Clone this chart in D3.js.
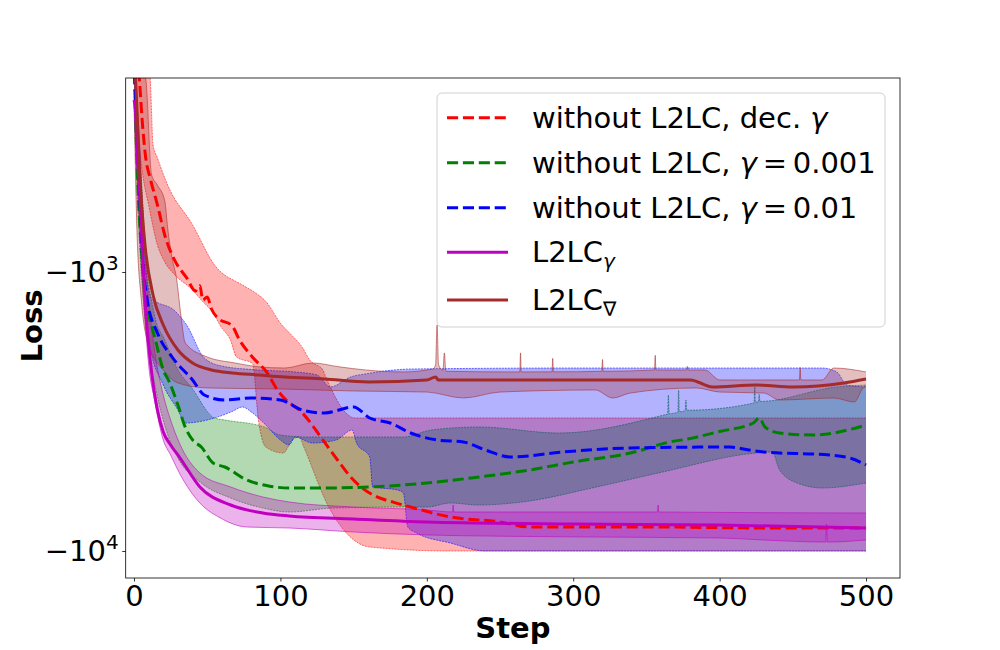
<!DOCTYPE html>
<html>
<head>
<meta charset="utf-8">
<script src="https://cdn.jsdelivr.net/npm/d3@7"></script>
<style>
body { margin: 0; background: #fff; }
svg { font-family: "DejaVu Sans", sans-serif; }
</style>
</head>
<body>
<script>
// [step, loss] pairs; "upper" = less negative edge of the band
var redMean = [[0,-167],[3,-189],[6,-305],[8,-390],[11,-460],[16,-575],[21,-737],[28,-913],[36,-1050],[42,-1170],[45,-1120],[47,-1260],[50,-1230],[53,-1360],[57,-1460],[67,-1560],[72,-1750],[81,-2020],[91,-2300],[98,-2650],[102,-2810],[115,-3200],[129,-4000],[139,-4720],[148,-5430],[156,-5950],[166,-6400],[177,-6680],[189,-6960],[216,-7550],[250,-7870],[270,-8200],[350,-8200],[430,-8270],[500,-8270]];
var redUpper = [[0,-100],[8,-170],[11,-202],[13,-350],[16,-390],[23,-488],[40,-678],[55,-944],[74,-1113],[81,-1170],[90,-1275],[101,-1549],[106,-1650],[115,-1865],[120,-2068],[129,-2245],[131,-2378],[151,-3337],[500,-3337]];
var redLower = [[0,-200],[3,-330],[6,-450],[10,-575],[16,-800],[21,-920],[28,-1025],[40,-1160],[46,-1260],[55,-1426],[59,-1560],[66,-1760],[70,-2017],[81,-2130],[85,-3393],[90,-4240],[102,-4455],[108,-4002],[113,-3904],[116,-4240],[133,-6956],[145,-8616],[161,-9676],[216,-10000],[500,-10000]];

var greenMean = [[0,-170],[2,-397],[5,-834],[8,-1260],[10,-1426],[14,-1700],[20,-2245],[24,-2470],[30,-3000],[35,-3600],[40,-4000],[46,-4240],[54,-4838],[62,-5000],[77,-5567],[92,-5850],[106,-5945],[130,-5945],[160,-5896],[200,-5705],[230,-5475],[270,-5126],[300,-4798],[339,-4455],[366,-4068],[380,-3950],[400,-3730],[423,-3478],[427,-3337],[431,-3594],[441,-3777],[464,-3840],[498,-3560],[500,-3535]];
var greenUpper = [[0,-150],[4,-365],[8,-834],[14,-1426],[21,-1753],[30,-2245],[39,-2583],[55,-3337],[62,-3393],[89,-3594],[100,-3840],[120,-3904],[184,-3904],[203,-3685],[236,-3594],[290,-3777],[362,-3255],[364.5,-3230],[365,-2760],[365.5,-3220],[371.5,-3180],[372,-2648],[372.5,-3170],[376.5,-3140],[377,-2876],[377.5,-3130],[423.5,-2948],[424,-2583],[424.5,-2930],[426.5,-2920],[427,-2740],[427.5,-2910],[480,-2583],[500,-2541]];
var greenLower = [[0,-250],[3,-651],[8,-1574],[15,-2648],[22,-3685],[30,-4642],[45,-5657],[66,-6457],[88,-7014],[106,-7248],[136,-7014],[184,-6956],[200,-6956],[216,-6730],[235,-6842],[265,-6675],[316,-5896],[361,-5211],[425,-4455],[436,-4418],[441,-5126],[453,-5705],[470,-5945],[500,-5705]];

var blueMean = [[0,-170],[2,-310],[4,-552],[6,-906],[9,-1260],[16,-1654],[26,-2017],[40,-2438],[48,-2760],[62,-2876],[80,-2829],[100,-2876],[115,-3124],[130,-3202],[150,-3047],[161,-3337],[175,-3478],[189,-3777],[207,-4002],[225,-4068],[240,-4346],[257,-4604],[293,-4418],[339,-4274],[407,-4240],[420,-4346],[430,-4418],[475,-4529],[490,-4660],[500,-4918]];
var blueUpper = [[0,-150],[3,-336],[6,-707],[12,-1240],[28,-1380],[36,-1549],[48,-2034],[60,-2174],[85,-2245],[110,-2282],[125,-2339],[134,-2583],[148,-2378],[160,-2310],[190,-2227],[300,-2209],[470,-2209],[480,-2282],[487,-2541],[500,-2583]];
var blueLower = [[0,-223],[3,-552],[5,-834],[10,-1753],[20,-2541],[30,-3124],[35,-3478],[55,-3337],[67,-3163],[74,-3047],[81,-3202],[90,-3535],[100,-4002],[106,-4170],[110,-3904],[122,-4102],[138,-4002],[149,-3685],[152,-4102],[161,-4604],[163,-5896],[180,-6044],[184,-6196],[187,-8204],[193,-8616],[216,-9361],[240,-10000],[500,-10000]];

var magentaMean = [[0,-242],[1,-263],[2,-365],[4,-530],[6,-906],[8,-1368],[10,-1827],[12,-2282],[16,-3124],[20,-3746],[25,-4170],[31,-4604],[45,-5896],[66,-6842],[88,-7308],[106,-7491],[150,-7679],[200,-7871],[300,-8002],[400,-8068],[500,-8272]];
var magentaUpper = [[0,-170],[2,-242],[4,-365],[6,-600],[8,-906],[10,-1260],[14,-1904],[20,-2760],[25,-3393],[31,-4102],[45,-5254],[66,-5896],[88,-6404],[106,-6675],[150,-6956],[200,-7129],[217.5,-7248],[218,-6842],[218.5,-7248],[357.5,-7248],[358,-6842],[358.5,-7248],[500,-7308]];
var magentaLower = [[0,-242],[2,-397],[4,-707],[6,-1160],[8,-1614],[10,-2154],[14,-2876],[20,-4002],[25,-4529],[31,-5254],[45,-6730],[59,-7615],[77,-8204],[106,-8272],[150,-8550],[200,-8760],[300,-8900],[400,-8981],[430,-9131],[472.5,-9290],[473,-8000],[473.5,-9290],[500,-9131]];

var brownMean = [[0,-170],[1,-202],[4,-460],[7.5,-800],[13,-1209],[20,-1549],[30,-1904],[40,-2119],[53,-2245],[67,-2301],[85,-2339],[103,-2378],[130,-2418],[160,-2479],[200,-2438],[206,-2380],[208,-2440],[300,-2438],[380,-2438],[395,-2583],[425,-2541],[450,-2583],[485,-2499],[500,-2418]];
var brownUpper = [[0,-150],[8,-202],[12,-449],[16,-488],[21,-556],[23,-695],[26,-891],[29,-1051],[32,-1426],[35,-1797],[50,-2017],[69,-2119],[85,-2187],[103,-2209],[122,-2119],[140,-2187],[158,-2245],[184,-2282],[204,-2227],[206,-2150],[207,-1549],[208,-2150],[211,-2250],[212,-1950],[213,-2270],[263.5,-2282],[264,-1950],[264.5,-2282],[285.5,-2280],[286,-2040],[286.5,-2280],[319.5,-2270],[320,-2060],[320.5,-2270],[355.5,-2245],[356,-1990],[356.5,-2245],[377.5,-2245],[378,-2180],[378.5,-2245],[390,-2245],[400,-2438],[454.5,-2438],[455,-2200],[455.5,-2438],[470,-2438],[478,-2209],[500,-2282]];
var brownLower = [[0,-242],[2,-707],[5,-1260],[10,-1827],[20,-2245],[30,-2499],[50,-2604],[100,-2626],[150,-2670],[200,-2693],[225,-2829],[250,-2693],[315,-2648],[327,-2829],[339,-2715],[384,-2604],[400,-2693],[430,-2715],[441,-2876],[478,-2829],[492,-2924],[498,-2604],[500,-2560]];

var xTicks = [0, 100, 200, 300, 400, 500];
var yTicks = [-1000, -10000];

var series = [
    {mean: redMean, upper: redUpper, lower: redLower, color: "#ff0000", dashed: true},
    {mean: greenMean, upper: greenUpper, lower: greenLower, color: "#008000", dashed: true},
    {mean: blueMean, upper: blueUpper, lower: blueLower, color: "#0000ff", dashed: true},
    {mean: magentaMean, upper: magentaUpper, lower: magentaLower, color: "#bf00bf", dashed: false},
    {mean: brownMean, upper: brownUpper, lower: brownLower, color: "#a52a2a", dashed: false}
];

var W = 1000, H = 650;
var box = {left: 125.7, right: 900, top: 78, bottom: 578};

var svg = d3.select("body").append("svg")
    .attr("width", W)
    .attr("height", H);

var x = d3.scaleLinear().domain([-5.67, 523.2]).range([box.left, box.right]);
var y = d3.scaleLog().domain([-201.7, -12497]).range([box.top, box.bottom]);

svg.append("clipPath").attr("id", "clip")
    .append("rect")
    .attr("x", box.left).attr("y", box.top)
    .attr("width", box.right - box.left).attr("height", box.bottom - box.top);

var plot = svg.append("g").attr("clip-path", "url(#clip)");

var line = d3.line()
    .x(d => x(d[0]))
    .y(d => y(d[1]))
    .curve(d3.curveMonotoneX);

// bands first
series.forEach(function(s) {
    var back = line(s.lower.slice().reverse());
    plot.append("path")
        .attr("d", line(s.upper) + "L" + back.slice(1) + "Z")
        .attr("fill", s.color)
        .attr("fill-opacity", 0.3)
        .attr("stroke", "none");
    [s.upper, s.lower].forEach(function(edge) {
        plot.append("path")
            .attr("d", line(edge))
            .attr("fill", "none")
            .attr("stroke", s.color)
            .attr("stroke-opacity", 0.7)
            .attr("stroke-width", 0.8)
            .attr("stroke-dasharray", s.dashed ? "2,1" : null);
    });
});

// then mean lines
series.forEach(function(s) {
    plot.append("path")
        .attr("d", line(s.mean))
        .attr("fill", "none")
        .attr("stroke", s.color)
        .attr("stroke-width", 3)
        .attr("stroke-dasharray", s.dashed ? "11.1,4.8" : null);
});

// spines
svg.append("rect")
    .attr("x", box.left).attr("y", box.top)
    .attr("width", box.right - box.left).attr("height", box.bottom - box.top)
    .attr("fill", "none")
    .attr("stroke", "#000")
    .attr("stroke-width", 0.8);

var xAxis = svg.append("g")
    .attr("transform", "translate(0," + box.bottom + ")")
    .call(d3.axisBottom(x).tickValues(xTicks).tickSize(3.5).tickPadding(3.5));

var yAxis = svg.append("g")
    .attr("transform", "translate(" + box.left + ",0)")
    .call(d3.axisLeft(y).tickValues(yTicks).tickSize(3.5).tickPadding(3.5).tickFormat(""));

[xAxis, yAxis].forEach(function(a) {
    a.select(".domain").remove();
    a.selectAll(".tick line").attr("stroke", "#000").attr("stroke-width", 0.8);
    a.selectAll("text").attr("font-family", "DejaVu Sans").attr("font-size", 29).attr("fill", "#000");
});

yAxis.selectAll(".tick text").each(function(d) {
    var t = d3.select(this);
    t.text(null);
    t.append("tspan").text("\u221210");
    t.append("tspan").attr("font-size", 20).attr("dy", -12).text(String(Math.round(Math.log10(-d))));
});

svg.append("text")
    .attr("x", (box.left + box.right) / 2)
    .attr("y", 638)
    .attr("text-anchor", "middle")
    .attr("font-size", 29)
    .attr("font-weight", "bold")
    .text("Step");

svg.append("text")
    .attr("transform", "translate(42," + 326 + ") rotate(-90)")
    .attr("text-anchor", "middle")
    .attr("font-size", 29)
    .attr("font-weight", "bold")
    .text("Loss");

// legend
var legend = svg.append("g");
legend.append("rect")
    .attr("x", 437).attr("y", 93)
    .attr("width", 448).attr("height", 234)
    .attr("rx", 5)
    .attr("fill", "#fff").attr("fill-opacity", 0.8)
    .attr("stroke", "#d0d0d0").attr("stroke-width", 1);

var rows = [
    {cy: 117.7, base: 128.3, parts: [["without L2LC, dec. ", null], ["\u03b3", "italic"]]},
    {cy: 162.7, base: 173.3, parts: [["without L2LC, ", null], ["\u03b3", "italic"], ["\u2009=\u20090.001", null]]},
    {cy: 207.7, base: 218.3, parts: [["without L2LC, ", null], ["\u03b3", "italic"], ["\u2009=\u20090.01", null]]},
    {cy: 252.3, base: 261.7, parts: [["L2LC", null], ["\u03b3", "sub-italic"]]},
    {cy: 300, base: 310, parts: [["L2LC", null], ["\u2207", "sub"]]}
];

rows.forEach(function(r, i) {
    var s = series[i];
    legend.append("line")
        .attr("x1", 447).attr("x2", 508)
        .attr("y1", r.cy).attr("y2", r.cy)
        .attr("stroke", s.color)
        .attr("stroke-width", 3)
        .attr("stroke-dasharray", s.dashed ? "11.1,4.8" : null);
    var t = legend.append("text")
        .attr("x", 532).attr("y", r.base)
        .attr("font-size", 29)
        .attr("xml:space", "preserve");
    r.parts.forEach(function(p) {
        var ts = t.append("tspan").text(p[0]);
        if (p[1] === "italic") ts.attr("font-style", "italic");
        if (p[1] === "sub-italic") ts.attr("font-style", "italic").attr("font-size", 20).attr("dy", 6);
        if (p[1] === "sub") ts.attr("font-size", 20).attr("dy", 6);
    });
});
</script>
</body>
</html>
